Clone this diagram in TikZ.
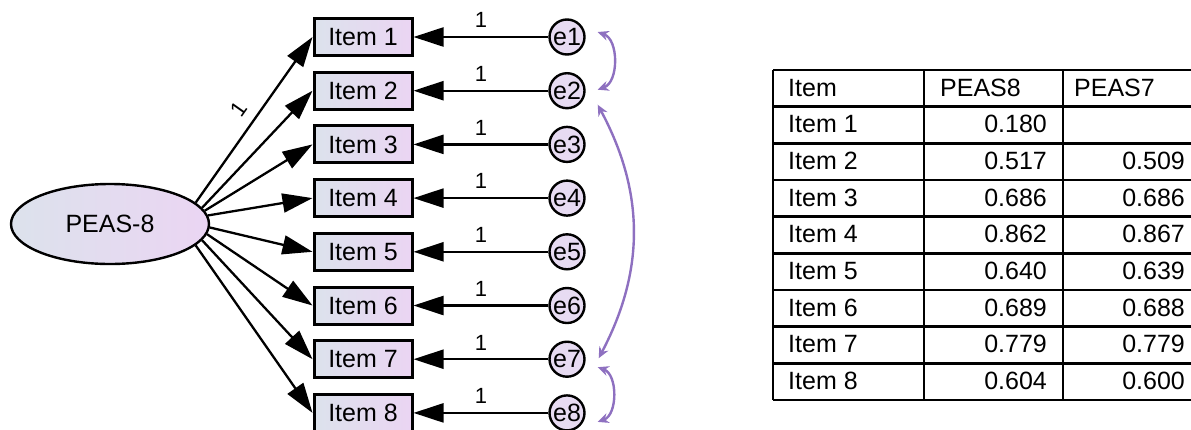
\documentclass[tikz,border=0pt]{standalone}
\usepackage{fontspec}
\setmainfont{Liberation Sans}
\usepackage{tikz}
\usetikzlibrary{arrows.meta,shapes.geometric}
\definecolor{semblue}{HTML}{DCE2EC}
\definecolor{semlilac}{HTML}{EBD5F3}
\definecolor{semcircle}{HTML}{E7DBF2}
\definecolor{semcov}{HTML}{8E70C0}
\tikzset{
  obs/.style={draw,line width=3pt,minimum width=98pt,minimum height=37pt,left color=semblue,right color=semlilac,inner sep=0pt,font=\fontsize{25}{30}\selectfont},
  lat/.style={ellipse,draw,line width=2.4pt,minimum width=198pt,minimum height=80pt,left color=semblue,right color=semlilac,inner sep=0pt,font=\fontsize{25}{30}\selectfont},
  err/.style={circle,draw,line width=2.4pt,fill=semcircle,minimum size=35pt,inner sep=0pt,font=\fontsize{25}{30}\selectfont},
  reg/.style={-{Triangle[length=30pt,width=19pt]},line width=2.3pt},
  cov/.style={{Stealth[open,length=11pt,width=10pt]}-{Stealth[open,length=11pt,width=10pt]},draw=semcov,line width=2.4pt},
  wt/.style={inner sep=1pt,font=\fontsize{22}{24}\selectfont},
  cell/.style={inner sep=0pt,font=\fontsize{25}{30}\selectfont},
  grid/.style={line width=2.8pt},
}
\begin{document}
\begin{tikzpicture}[x=1pt,y=-1pt]
  \useasboundingbox (0,0) rectangle (1191,429);
  % model
  \node[lat] (peas) at (110,224) {PEAS-8};
  \foreach \i in {1,...,8} {
    \node[obs] (item\i) at (363,{37+53.7*(\i-1)}) {Item \i};
    \node[err] (e\i) at (567,{37+53.7*(\i-1)}) {e\i};
    \draw[reg] (e\i) -- node[wt,above=7pt] {1} (item\i);
  }
  \draw[reg] (peas.14) -- node[wt,sloped,above=9pt] {1} (item1.west);
  \foreach \i/\ang in {2/10,3/8,4/5,5/-2,6/-6,7/-10,8/-14}
    \draw[reg] (peas.\ang) -- (item\i.west);
  \draw[cov] ([shift={(12pt,5pt)}]e1.east) to[bend left=70] ([shift={(12pt,1pt)}]e2.east);
  \draw[cov] ([shift={(12pt,-14pt)}]e2.east) to[bend left=28] ([shift={(13pt,1pt)}]e7.east);
  \draw[cov] ([shift={(12pt,-8pt)}]e7.east) to[bend left=70] ([shift={(12pt,-9pt)}]e8.east);
  % table
  \foreach \k in {0,...,9} \draw[grid] (773,{70+36.67*\k}) -- (1191,{70+36.67*\k});
  \foreach \x in {773,924,1063} \draw[grid] (\x,70) -- (\x,400);
  \node[cell,anchor=base west] (hitem) at (788,96) {Item};
  \node[cell,anchor=base west] (hpeas8) at (940,96) {PEAS8};
  \node[cell,anchor=base west] (hpeas7) at (1074,96) {PEAS7};
  \foreach \lbl/\a/\b [count=\r] in {Item 1/0.180/,Item 2/0.517/0.509,Item 3/0.686/0.686,Item 4/0.862/0.867,Item 5/0.640/0.639,Item 6/0.689/0.688,Item 7/0.779/0.779,Item 8/0.604/0.600} {
    \node[cell,anchor=base west] (lbl\r) at (788,{96+36.67*\r}) {\lbl};
    \node[cell,anchor=base east] (pa\r) at (1047,{96+36.67*\r}) {\a};
    \node[cell,anchor=base east] (pb\r) at (1185,{96+36.67*\r}) {\b};
  }
\end{tikzpicture}
\end{document}
